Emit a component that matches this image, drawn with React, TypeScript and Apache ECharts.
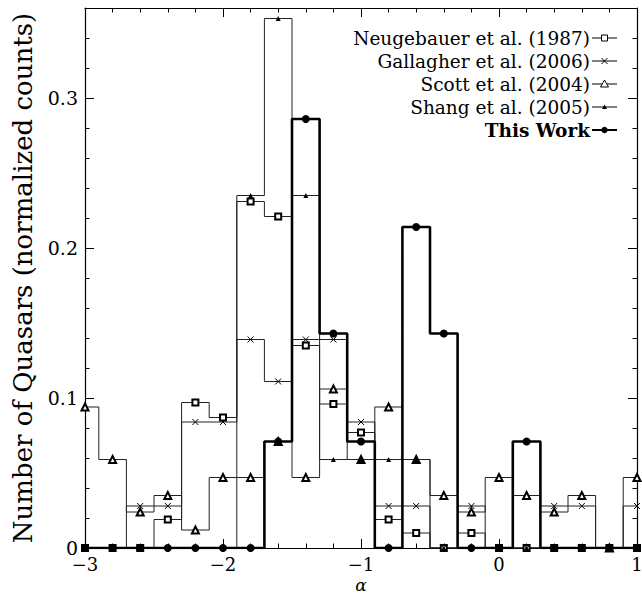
import React, { useEffect, useRef } from "react";
import * as echarts from "echarts";

// bin centres (alpha)
const alphaBins = [-3.0, -2.8, -2.6, -2.4, -2.2, -2.0, -1.8, -1.6, -1.4, -1.2, -1.0, -0.8, -0.6, -0.4, -0.2, 0.0, 0.2, 0.4, 0.6, 0.8, 1.0];

const neugebauer = [0, 0, 0, 0.019, 0.097, 0.087, 0.231, 0.221, 0.135, 0.096, 0.077, 0.019, 0.010, 0, 0.010, 0, 0, 0, 0, 0, 0];
const gallagher = [0, 0, 0.028, 0.028, 0.084, 0.084, 0.139, 0.111, 0.139, 0.139, 0.084, 0.028, 0.028, 0, 0.028, 0, 0, 0.028, 0.028, 0, 0.028];
const scott = [0.094, 0.059, 0.024, 0.035, 0.012, 0.047, 0.047, 0.071, 0.047, 0.106, 0.059, 0.094, 0.059, 0.035, 0.024, 0.047, 0.035, 0.024, 0.035, 0, 0.047];
const shang = [0, 0, 0, 0, 0, 0, 0.235, 0.353, 0.235, 0.059, 0.059, 0.059, 0.059, 0, 0, 0, 0, 0, 0, 0, 0];
const thisWork = [0, 0, 0, 0, 0, 0, 0, 0.071, 0.286, 0.143, 0.071, 0, 0.214, 0.143, 0, 0, 0.071, 0, 0, 0, 0];

const legendNames = ["Neugebauer et al. (1987)", "Gallagher et al. (2006)", "Scott et al. (2004)", "Shang et al. (2005)", "This Work"];

const xTicks = [-3, -2, -1, 0, 1];
const yTicks = [0, 0.1, 0.2, 0.3];

const FONT = "DejaVu Serif";
const X_MARK = "path://M0,0L10,10M10,0L0,10";

export default function App() {
  const ref = useRef<HTMLDivElement>(null);
  useEffect(() => {
    if (!ref.current) return;
    const chart = echarts.init(ref.current, undefined, { renderer: "svg" });

    const fmtX = (v: number) => {
      const r = Math.round(v);
      if (!xTicks.includes(r) || Math.abs(v - r) > 1e-6) return "";
      return r < 0 ? "\u2212" + Math.abs(r) : String(r);
    };
    const fmtY = (v: number) => {
      const t = yTicks.find((y) => Math.abs(y - v) < 1e-6);
      if (t === undefined) return "";
      return t === 0 ? "0" : t.toFixed(1);
    };

    const tickStyle = { color: "#000", width: 1 };
    const baseX = {
      type: "value",
      min: -3,
      max: 1,
      interval: 1,
      axisLine: { show: true, onZero: false, lineStyle: { color: "#000", width: 1.2 } },
      axisTick: { show: true, inside: true, length: 9, lineStyle: tickStyle },
      minorTick: { show: true, splitNumber: 5, length: 4.5, lineStyle: tickStyle },
      splitLine: { show: false },
    };
    const xAxis = [
      {
        ...baseX,
        position: "bottom",
        axisLabel: { show: true, formatter: fmtX, fontSize: 18, fontFamily: FONT, color: "#000", margin: 7 },
        name: "\u03b1",
        nameLocation: "middle",
        nameGap: 28,
        nameMoveOverlap: false,
        nameTextStyle: { fontSize: 17, fontFamily: FONT, fontStyle: "italic", color: "#000" },
      },
      { ...baseX, position: "top", axisLabel: { show: false } },
    ];
    const majorY = {
      type: "value",
      min: 0,
      max: 0.36,
      interval: 0.1,
      axisLine: { show: true, onZero: false, lineStyle: { color: "#000", width: 1.2 } },
      axisTick: { show: true, inside: true, length: 9, lineStyle: tickStyle },
      splitLine: { show: false },
    };
    const minorY = {
      type: "value",
      min: 0,
      max: 0.36,
      interval: 0.02,
      axisLine: { show: false, onZero: false },
      axisTick: { show: true, inside: true, length: 4.5, lineStyle: tickStyle },
      axisLabel: { show: false },
      splitLine: { show: false },
    };
    const yAxis = [
      {
        ...majorY,
        position: "left",
        axisLabel: { show: true, formatter: fmtY, fontSize: 19, fontFamily: FONT, color: "#000", margin: 7, verticalAlign: "middle" },
        name: "Number of Quasars (normalized counts)",
        nameLocation: "middle",
        nameGap: 49,
        nameMoveOverlap: false,
        nameTextStyle: { fontSize: 26, fontFamily: FONT, color: "#000" },
      },
      { ...minorY, position: "left" },
      { ...majorY, position: "right", axisLabel: { show: false } },
      { ...minorY, position: "right" },
    ];

    const mk = (vals: number[]) => alphaBins.map((x, i) => [x, vals[i]]);
    const thin = { color: "#222", width: 1 };
    const series: any[] = [
      {
        name: legendNames[0], type: "line", step: "middle", data: mk(neugebauer),
        symbol: "emptyRect", symbolSize: 6, lineStyle: thin,
        itemStyle: { color: "#000", borderColor: "#000", borderWidth: 1 }, z: 2,
      },
      {
        name: legendNames[1], type: "line", step: "middle", data: mk(gallagher),
        symbol: X_MARK, symbolSize: 6, lineStyle: thin,
        itemStyle: { color: "rgba(0,0,0,0)", borderColor: "#000", borderWidth: 1 }, z: 2,
      },
      {
        name: legendNames[2], type: "line", step: "middle", data: mk(scott),
        symbol: "emptyTriangle", symbolSize: 7, lineStyle: thin,
        itemStyle: { color: "#000", borderColor: "#000", borderWidth: 1 }, z: 2,
      },
      {
        name: legendNames[3], type: "line", step: "middle", data: mk(shang),
        symbol: "triangle", symbolSize: 5, lineStyle: thin,
        itemStyle: { color: "#000" }, z: 2,
      },
      {
        name: legendNames[4], type: "line", step: "middle", data: mk(thisWork),
        symbol: "circle", symbolSize: 8, lineStyle: { color: "#000", width: 2.6 },
        itemStyle: { color: "#000" }, z: 3,
      },
    ];

    // legend drawn as graphic elements (right aligned text, line + marker on right)
    const rowY = [38, 61, 84, 107, 130];
    const tx = 590, lx1 = 592, lx2 = 617, mx = 604.5;
    const graphic: any[] = [];
    legendNames.forEach((name, i) => {
      const y = rowY[i];
      graphic.push({
        type: "text", x: tx, y,
        style: {
          text: name, textAlign: "right", textVerticalAlign: "middle",
          fontSize: 18.5, fontFamily: FONT, fontWeight: i === 4 ? "bold" : "normal", fill: "#000",
        },
      });
      graphic.push({
        type: "line", shape: { x1: lx1, y1: y, x2: lx2, y2: y },
        style: { stroke: "#000", lineWidth: i === 4 ? 2 : 1 },
      });
      if (i === 0) {
        graphic.push({ type: "rect", shape: { x: mx - 3, y: y - 3, width: 6, height: 6 }, style: { fill: "#fff", stroke: "#000", lineWidth: 1 } });
      } else if (i === 1) {
        graphic.push({ type: "line", shape: { x1: mx - 3, y1: y - 3, x2: mx + 3, y2: y + 3 }, style: { stroke: "#000", lineWidth: 1 } });
        graphic.push({ type: "line", shape: { x1: mx + 3, y1: y - 3, x2: mx - 3, y2: y + 3 }, style: { stroke: "#000", lineWidth: 1 } });
      } else if (i === 2) {
        graphic.push({ type: "polygon", shape: { points: [[mx, y - 4], [mx + 4, y + 3], [mx - 4, y + 3]] }, style: { fill: "#fff", stroke: "#000", lineWidth: 1 } });
      } else if (i === 3) {
        graphic.push({ type: "polygon", shape: { points: [[mx, y - 2.5], [mx + 2.5, y + 2], [mx - 2.5, y + 2]] }, style: { fill: "#000" } });
      } else {
        graphic.push({ type: "circle", shape: { cx: mx, cy: y, r: 3.2 }, style: { fill: "#000" } });
      }
    });

    chart.setOption({
      animation: false,
      backgroundColor: "#fff",
      grid: { left: 85, right: 5, top: 8, bottom: 45, containLabel: false, outerBoundsMode: "none" },
      xAxis,
      yAxis,
      series,
      graphic,
    } as any);

    return () => chart.dispose();
  }, []);

  return (
    <div
      ref={ref}
      style={{ position: "fixed", left: 0, top: 0, width: 642, height: 593, background: "#fff" }}
    />
  );
}
